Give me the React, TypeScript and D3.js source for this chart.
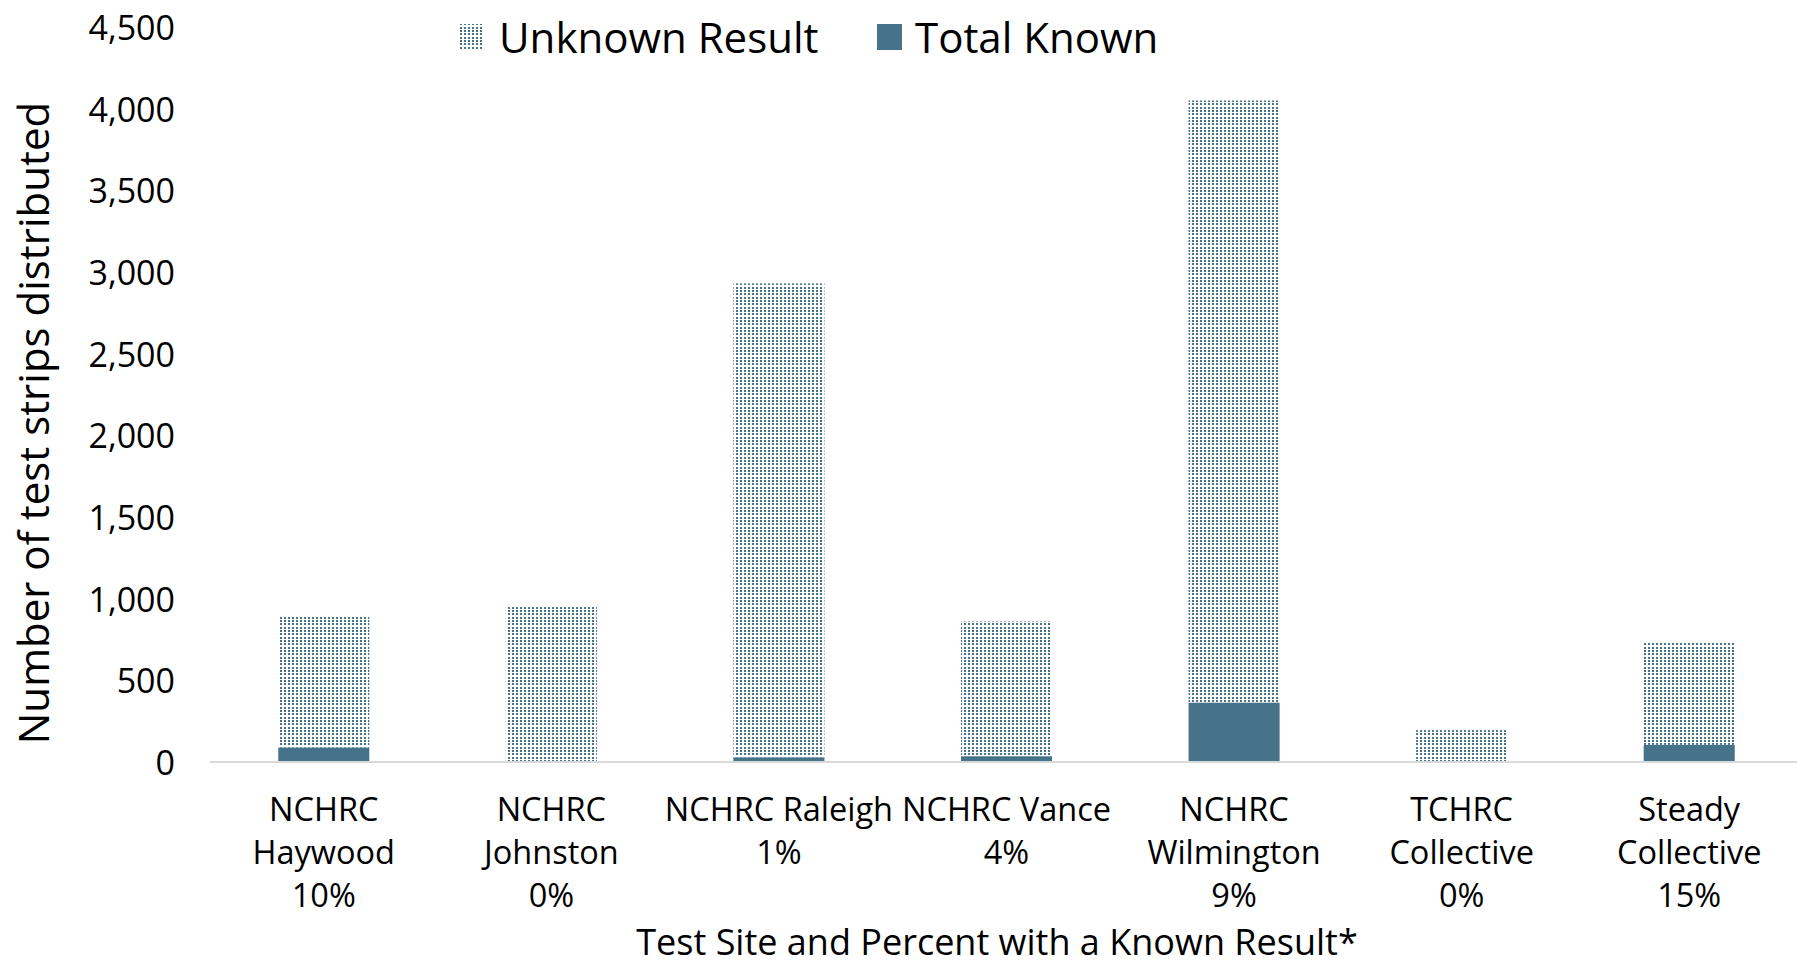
import React from "react";
import * as d3 from "d3";

const categories: string[][] = [
  ["NCHRC", "Haywood", "10%"],
  ["NCHRC", "Johnston", "0%"],
  ["NCHRC Raleigh", "1%"],
  ["NCHRC Vance", "4%"],
  ["NCHRC", "Wilmington", "9%"],
  ["TCHRC", "Collective", "0%"],
  ["Steady", "Collective", "15%"],
];
const totalKnown: number[] = [88, 0, 28, 35, 363, 0, 105];
const unknownResult: number[] = [812, 950, 2902, 825, 3687, 195, 625];
const yTicks: number[] = [0, 500, 1000, 1500, 2000, 2500, 3000, 3500, 4000, 4500];

const W = 1797;
const H = 966;
const FONT = "'Open Sans', sans-serif";
const COLOR = "#47738a";

export default function App() {
  const left = 210;
  const right = 1797;
  const y = d3.scaleLinear().domain([0, 4500]).range([762, 27]);
  const x = d3
    .scaleBand<number>()
    .domain(categories.map((_, i) => i))
    .range([210, 1803])
    .paddingInner(0.6)
    .paddingOuter(0.3);
  const fmt = d3.format(",");
  const lineH = 43;

  return (
    <svg
      width={W}
      height={H}
      style={{ position: "absolute", left: 0, top: 0, background: "#fff" }}
      fontFamily={FONT}
    >
      <defs>
        <pattern id="dots" patternUnits="userSpaceOnUse" width={4} height={10}>
          <rect width={4} height={10} fill="#fff" />
          <rect x={0} y={0} width={2} height={2} fill={COLOR} />
          <rect x={0} y={3} width={2} height={2} fill={COLOR} />
          <rect x={0} y={7} width={2} height={2} fill={COLOR} />
        </pattern>
      </defs>
      {/* y tick labels */}
      {yTicks.map((t) => (
        <text
          key={t}
          x={175}
          y={y(t)}
          textAnchor="end"
          dominantBaseline="central"
          fontSize={34}
          fill="#000"
        >
          {fmt(t)}
        </text>
      ))}
      {/* bars */}
      {categories.map((_, i) => {
        const k = totalKnown[i];
        const u = unknownResult[i];
        return (
          <g key={i}>
            <rect
              x={x(i)}
              y={y(k + u)}
              width={x.bandwidth()}
              height={y(k) - y(k + u)}
              fill="url(#dots)"
            />
            {k > 0 && (
              <rect
                x={x(i)}
                y={y(k)}
                width={x.bandwidth()}
                height={y(0) - y(k)}
                fill={COLOR}
              />
            )}
          </g>
        );
      })}
      {/* axis line */}
      <line x1={left} x2={right} y1={y(0)} y2={y(0)} stroke="#d9d9d9" strokeWidth={2} />
      {/* category labels */}
      {categories.map((lines, i) => (
        <text
          key={i}
          x={(x(i) as number) + x.bandwidth() / 2}
          textAnchor="middle"
          fontSize={32.5}
          fill="#000"
        >
          {lines.map((l, j) => (
            <tspan key={j} x={(x(i) as number) + x.bandwidth() / 2} y={821 + j * lineH}>
              {l}
            </tspan>
          ))}
        </text>
      ))}
      {/* x title */}
      <text x={997} y={955} textAnchor="middle" fontSize={36} fill="#000">
        Test Site and Percent with a Known Result*
      </text>
      {/* y title */}
      <text
        transform={`translate(32,423) rotate(-90)`}
        textAnchor="middle"
        dominantBaseline="central"
        fontSize={42}
        fill="#000"
      >
        Number of test strips distributed
      </text>
      {/* legend */}
      <rect x={459} y={24} width={25} height={26} fill="url(#dots)" />
      <text x={499} y={36} dominantBaseline="central" fontSize={42} fill="#000">
        Unknown Result
      </text>
      <rect x={877} y={24} width={25} height={26} fill={COLOR} />
      <text x={915} y={36} dominantBaseline="central" fontSize={42} fill="#000">
        Total Known
      </text>
    </svg>
  );
}
